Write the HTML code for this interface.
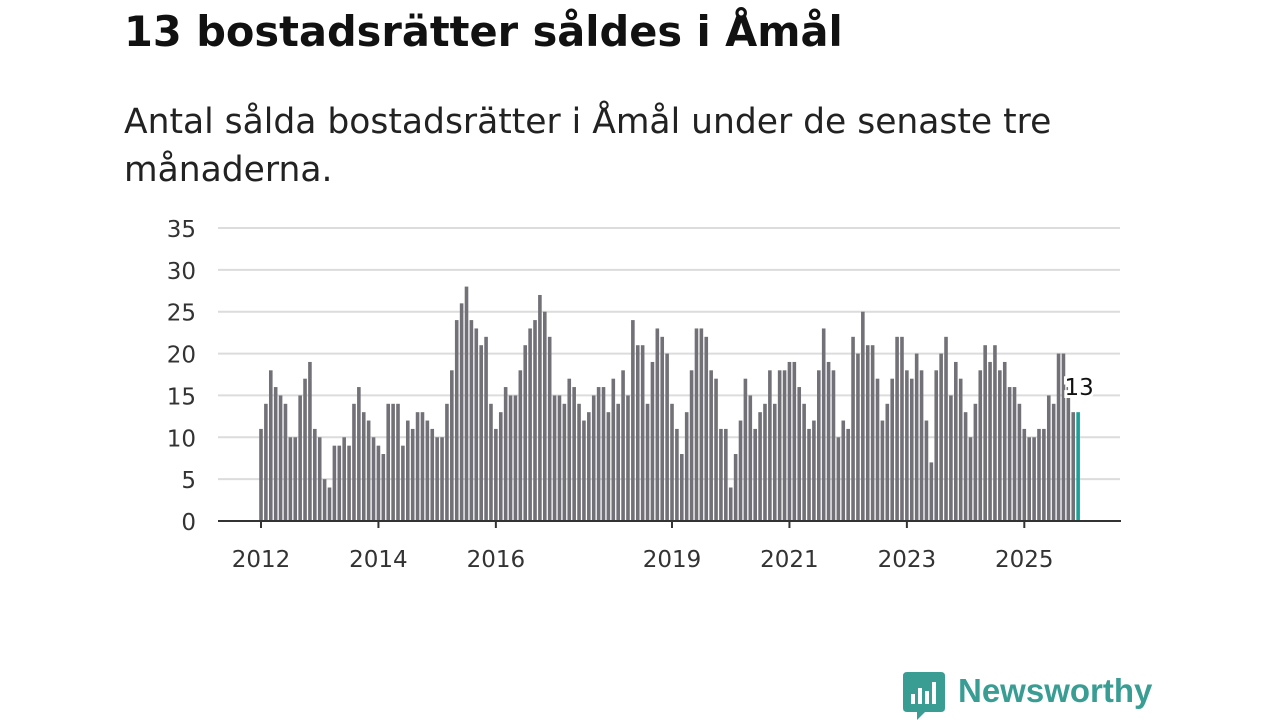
<!DOCTYPE html>
<html><head><meta charset="utf-8"><style>
body{margin:0;width:1280px;height:720px;background:#fff;font-family:"DejaVu Sans","Liberation Sans",sans-serif;overflow:hidden;position:relative}
#title{position:absolute;left:124px;top:7px;font-size:41.5px;font-weight:bold;color:#111;margin:0;white-space:nowrap}
#sub{position:absolute;left:124px;top:98px;font-size:34.5px;line-height:48px;color:#222;width:1000px;margin:0}
svg{position:absolute;left:0;top:0}
</style></head><body>
<h1 id="title">13 bostadsrätter såldes i Åmål</h1>
<p id="sub">Antal sålda bostadsrätter i Åmål under de senaste tre månaderna.</p>
<svg id="chart" width="1280" height="720"></svg>
<script>
const values=[11,14,18,16,15,14,10,10,15,17,19,11,10,5,4,9,9,10,9,14,16,13,12,10,9,8,14,14,14,9,12,11,13,13,12,11,10,10,14,18,24,26,28,24,23,21,22,14,11,13,16,15,15,18,21,23,24,27,25,22,15,15,14,17,16,14,12,13,15,16,16,13,17,14,18,15,24,21,21,14,19,23,22,20,14,11,8,13,18,23,23,22,18,17,11,11,4,8,12,17,15,11,13,14,18,14,18,18,19,19,16,14,11,12,18,23,19,18,10,12,11,22,20,25,21,21,17,12,14,17,22,22,18,17,20,18,12,7,18,20,22,15,19,17,13,10,14,18,21,19,21,18,19,16,16,14,11,10,10,11,11,15,14,20,20,16,13,13];
const startYear=2012;
const yTicks=[0,5,10,15,20,25,30,35];
const xTickYears=[2012,2014,2016,2019,2021,2023,2025];
const NS="http://www.w3.org/2000/svg";
const svg=document.getElementById('chart');
const y=v=>521-v*(293/35);
const x=i=>261+i*4.893;
const FF='DejaVu Sans, Liberation Sans, sans-serif';
function mk(t,a){const e=document.createElementNS(NS,t);for(const k in a)e.setAttribute(k,a[k]);svg.appendChild(e);return e;}
yTicks.forEach(t=>{
  if(t>0){const g=mk('line',{x1:218,x2:1120,y1:y(t),y2:y(t),stroke:'#dcdcdc','stroke-width':2});
  
  }
  const l=mk('text',{x:196,y:y(t)+9,'text-anchor':'end','font-size':23,fill:'#333','font-family':FF});
  l.textContent=t;
  
  
});
values.forEach((v,i)=>{
  const last=i===values.length-1;
  const r=mk('rect',{x:x(i)-1.8,y:y(v),width:3.6,height:y(0)-y(v),fill:last?'#17a398':'#727177'});
  
  
});
const ax=mk('line',{x1:218,x2:1121,y1:521,y2:521,stroke:'#333','stroke-width':2});


xTickYears.forEach(yr=>{
  const i=(yr-startYear)*12;
  const tk=mk('line',{x1:x(i),x2:x(i),y1:521,y2:528,stroke:'#333','stroke-width':2});
  
  
  const l=mk('text',{x:x(i),y:567,'text-anchor':'middle','font-size':23,fill:'#333','font-family':FF});
  l.textContent=yr;
  
  
});
const li=values.length-1;
const vl=mk('text',{x:x(li)+1,y:y(values[li])-17,'text-anchor':'middle','font-size':23,fill:'#111',stroke:'#fff','stroke-width':6,'paint-order':'stroke','font-family':FF});
vl.textContent=values[li];


</script>
<div style="position:absolute;left:903px;top:672px;height:48px;">
 <svg width="42" height="48" style="position:absolute;left:0;top:0">
  <path d="M4 0H38Q42 0 42 4V36Q42 40 38 40H22L14 48V40H4Q0 40 0 36V4Q0 0 4 0Z" fill="#3a9d94"/>
  <rect x="8" y="22" width="4" height="10" fill="#fff"/><rect x="15" y="16" width="4" height="16" fill="#fff"/><rect x="22" y="19" width="4" height="13" fill="#fff"/><rect x="29" y="10" width="4" height="22" fill="#fff"/>
 </svg>
 <span style="position:absolute;left:55px;top:0px;font-family:'Liberation Sans',sans-serif;font-size:33px;font-weight:bold;color:#3a9d94;white-space:nowrap">Newsworthy</span>
</div>
</body></html>
